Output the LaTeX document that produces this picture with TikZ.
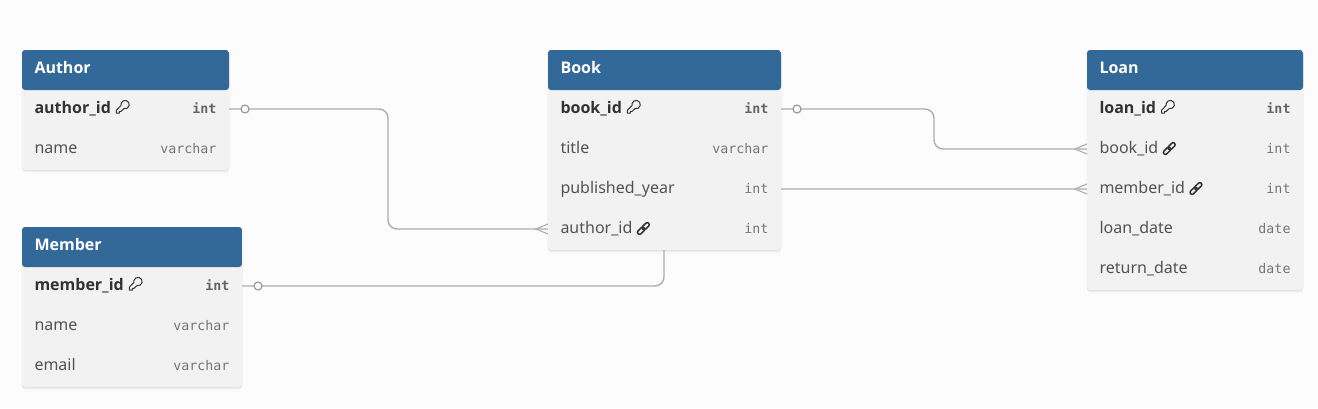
\documentclass[tikz,border=0pt]{standalone}
\usepackage{fontspec}
\setmainfont{Noto Sans}[BoldFont={Open Sans Bold}]
\setmonofont{DejaVu Sans Mono}
\usetikzlibrary{positioning, fit, calc, backgrounds, shadows}
\definecolor{pagebg}{RGB}{252,252,252}
\definecolor{tablehead}{RGB}{50,105,152}
\definecolor{tablefill}{RGB}{242,242,242}
\definecolor{relcolor}{RGB}{172,172,182}
\definecolor{keytext}{RGB}{50,50,50}
\definecolor{fieldtext}{RGB}{82,82,82}
\definecolor{typetext}{RGB}{118,118,118}
\newcommand{\rowtext}[2]{#1\hskip 0pt plus 1filll{\fontsize{13.3}{16}\ttfamily\color{typetext}#2}}
\newcommand{\keyrowtext}[2]{#1\hskip 0pt plus 1filll{\fontsize{13.3}{16}\ttfamily\bfseries\color{typetext!85!black}#2}}
\newcommand{\keyicon}{\hspace{5pt}\tikz[x=1pt,y=1pt,baseline=1pt,line width=1pt,draw=keytext]{\draw[line join=round] (8.4,5.4) arc[start angle=255,end angle=553,radius=4.2] -- (0.8,3.8) -- (0.8,0.8) -- (3.8,0.8) -- (3.8,2.6) -- (5.4,2.6) -- cycle;}}
\newcommand{\linkicon}{\hspace{3.5pt}\tikz[x=1pt,y=1pt,baseline=2pt,line width=1.5pt,draw=keytext]{\draw[rotate around={45:(6.5,6.5)},rounded corners=2pt] (-1,4.5) rectangle (7.5,8.5); \draw[rotate around={45:(6.5,6.5)},rounded corners=2pt] (5.5,4.5) rectangle (14,8.5);}}

\begin{document}
\begin{tikzpicture}[
    x=1pt, y=-1pt,
    headcell/.style={rectangle, anchor=north west, text width=#1, inner xsep=12.5pt, inner ysep=0pt, outer sep=0pt, minimum height=40pt, text height=11pt, text depth=5pt, font=\fontsize{16}{20}\selectfont\bfseries, text=white},
    fieldcell/.style={rectangle, text width=#1, inner xsep=12.5pt, inner ysep=0pt, outer sep=0pt, minimum height=40pt, text height=11pt, text depth=5pt, font=\fontsize{16}{20}\selectfont, text=fieldtext},
    keycell/.style={fieldcell=#1, font=\fontsize{16}{20}\selectfont\bfseries, text=keytext},
    tablebox/.style={rectangle, fill=tablefill, rounded corners=3pt, inner sep=0pt, outer sep=0pt,
        drop shadow={shadow xshift=0pt, shadow yshift=-3pt, opacity=.018, fill=black},
        drop shadow={shadow xshift=0pt, shadow yshift=-2pt, opacity=.03, fill=black},
        drop shadow={shadow xshift=0pt, shadow yshift=-1pt, opacity=.04, fill=black},
        drop shadow={shadow xshift=1pt, shadow yshift=0pt, opacity=.02, fill=black},
        drop shadow={shadow xshift=-1pt, shadow yshift=0pt, opacity=.02, fill=black},
        path picture={\fill[tablehead] (path picture bounding box.north west) rectangle ([yshift=-40pt]path picture bounding box.north east);}},
    relline/.style={draw=relcolor, line width=1.4pt, rounded corners=9pt},
    crowfoot/.style={draw=relcolor, line width=1.1pt},
    onemark/.style={circle, draw=relcolor!85!black, fill=pagebg, line width=1.1pt, inner sep=0pt, minimum size=8pt}
]
\useasboundingbox (0,0) rectangle (1318,408);

% Author
\node[headcell=182pt] (authorhead) at (22,50) {Author};
\node[keycell=182pt, below=0pt of authorhead] (authorid) {\keyrowtext{author\_id\keyicon}{int}};
\node[fieldcell=182pt, below=0pt of authorid] (authorname) {\rowtext{name}{varchar}};

% Member
\node[headcell=195pt] (memberhead) at (22,227) {Member};
\node[keycell=195pt, below=0pt of memberhead] (memberid) {\keyrowtext{member\_id\keyicon}{int}};
\node[fieldcell=195pt, below=0pt of memberid] (membername) {\rowtext{name}{varchar}};
\node[fieldcell=195pt, below=0pt of membername] (memberemail) {\rowtext{email}{varchar}};

% Book
\node[headcell=208pt] (bookhead) at (548,50) {Book};
\node[keycell=208pt, below=0pt of bookhead] (bookid) {\keyrowtext{book\_id\keyicon}{int}};
\node[fieldcell=208pt, below=0pt of bookid] (booktitle) {\rowtext{title}{varchar}};
\node[fieldcell=208pt, below=0pt of booktitle] (bookyear) {\rowtext{published\_year}{int}};
\node[fieldcell=208pt, below=0pt of bookyear] (bookauthor) {\rowtext{author\_id\linkicon}{int}};

% Loan
\node[headcell=191pt] (loanhead) at (1087,50) {Loan};
\node[keycell=191pt, below=0pt of loanhead] (loanid) {\keyrowtext{loan\_id\keyicon}{int}};
\node[fieldcell=191pt, below=0pt of loanid] (loanbook) {\rowtext{book\_id\linkicon}{int}};
\node[fieldcell=191pt, below=0pt of loanbook] (loanmember) {\rowtext{member\_id\linkicon}{int}};
\node[fieldcell=191pt, below=0pt of loanmember] (loandate) {\rowtext{loan\_date}{date}};
\node[fieldcell=191pt, below=0pt of loandate] (loanreturn) {\rowtext{return\_date}{date}};

% Bends
\coordinate (authorbend) at (388,170);
\coordinate (bookbend) at (934,130);
\coordinate (memberbend) at (664,240);

% Everything under the table text
\begin{pgfonlayer}{background}
\fill[pagebg] (0,0) rectangle (1318,408);

% Connectors
\draw[relline] ([yshift=1pt]authorid.east) -| (authorbend) |- ([yshift=1pt]bookauthor.west);
\draw[relline] ([yshift=1pt]bookid.east) -| (bookbend) |- ([yshift=1pt]loanbook.west);
\draw[relline] ([yshift=1pt]memberid.east) -| (memberbend) |- ([yshift=1pt]loanmember.west);

% Crow feet
\draw[crowfoot] ([yshift=6pt]bookauthor.west) -- ([xshift=-12pt,yshift=1pt]bookauthor.west) -- ([yshift=-4pt]bookauthor.west);
\draw[crowfoot] ([yshift=6pt]loanbook.west) -- ([xshift=-12pt,yshift=1pt]loanbook.west) -- ([yshift=-4pt]loanbook.west);
\draw[crowfoot] ([yshift=6pt]loanmember.west) -- ([xshift=-12pt,yshift=1pt]loanmember.west) -- ([yshift=-4pt]loanmember.west);

% One marks
\node[onemark] (authorone) at ([xshift=16pt,yshift=1pt]authorid.east) {};
\node[onemark] (bookone) at ([xshift=16pt,yshift=1pt]bookid.east) {};
\node[onemark] (memberone) at ([xshift=16pt,yshift=1pt]memberid.east) {};

% Table boxes
\node[tablebox, fit=(authorhead)(authorname)] (authorbox) {};
\node[tablebox, fit=(memberhead)(memberemail)] (memberbox) {};
\node[tablebox, fit=(bookhead)(bookauthor)] (bookbox) {};
\node[tablebox, fit=(loanhead)(loanreturn)] (loanbox) {};
\end{pgfonlayer}

\end{tikzpicture}
\end{document}
